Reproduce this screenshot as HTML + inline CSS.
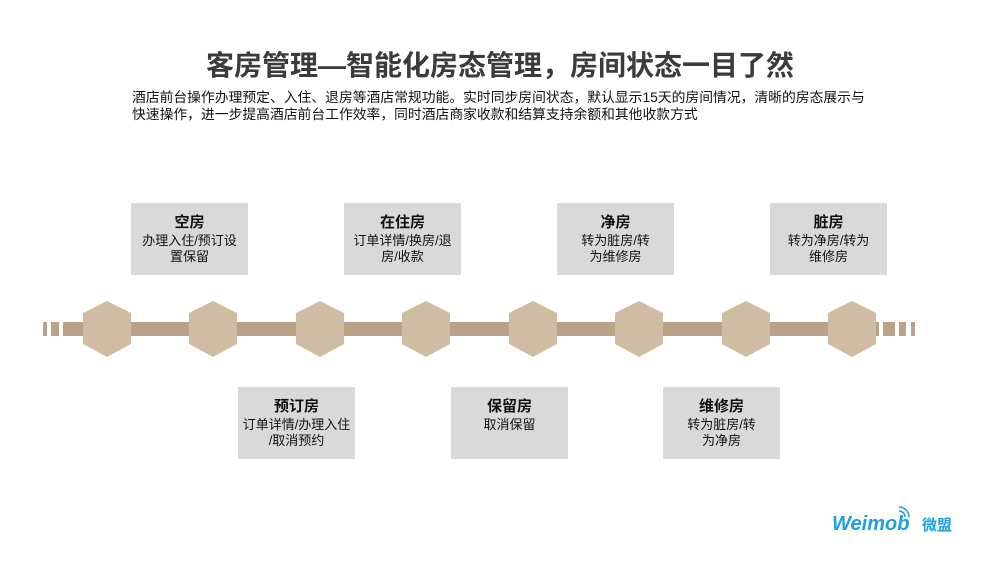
<!DOCTYPE html>
<html><head><meta charset="utf-8"><style>
body{margin:0;width:1000px;height:563px;background:#fff;position:relative;overflow:hidden;font-family:"Liberation Sans","Noto Sans CJK SC",sans-serif;}
.t{position:absolute;left:0;width:1000px;top:44px;text-align:center;font-size:28px;font-weight:bold;color:#3b3b3b;}
.s{position:absolute;left:132px;top:89px;width:800px;font-size:13.8px;line-height:17px;color:#111;white-space:nowrap;}
.b{position:absolute;width:117px;height:72px;background:#d9d9d9;text-align:center;font-size:13px;line-height:16px;color:#111;box-sizing:border-box;padding-top:10px;}
.b b{font-size:15px;display:block;line-height:20px;}
.bar{position:absolute;background:#b9a287;top:322px;height:14px;}
</style></head><body>
<div class="t">客房管理—智能化房态管理，房间状态一目了然</div>
<div class="s">酒店前台操作办理预定、入住、退房等酒店常规功能。实时同步房间状态，默认显示15天的房间情况，清晰的房态展示与<br>快速操作，进一步提高酒店前台工作效率，同时酒店商家收款和结算支持余额和其他收款方式</div>
<div class="b" style="left:131px;top:203px"><b>空房</b>办理入住/预订设<br>置保留</div>
<div class="b" style="left:344px;top:203px"><b>在住房</b>订单详情/换房/退<br>房/收款</div>
<div class="b" style="left:557px;top:203px"><b>净房</b>转为脏房/转<br>为维修房</div>
<div class="b" style="left:770px;top:203px"><b>脏房</b>转为净房/转为<br>维修房</div>
<div class="b" style="left:238px;top:387px"><b>预订房</b>订单详情/办理入住<br>/取消预约</div>
<div class="b" style="left:451px;top:387px"><b>保留房</b>取消保留</div>
<div class="b" style="left:663px;top:387px"><b>维修房</b>转为脏房/转<br>为净房</div>
<div class="bar" style="left:43px;width:4px"></div>
<div class="bar" style="left:51px;width:8px"></div>
<div class="bar" style="left:63px;width:816px"></div>
<div class="bar" style="left:883px;width:12px"></div>
<div class="bar" style="left:899px;width:7px"></div>
<div class="bar" style="left:911px;width:4px"></div>
<svg style="position:absolute;left:0;top:0" width="1000" height="563">
<g fill="#cfbca3">
<polygon points="107,301 131,313 131,344 107,357 83,344 83,313"/>
<polygon points="213,301 237,313 237,344 213,357 189,344 189,313"/>
<polygon points="320,301 344,313 344,344 320,357 296,344 296,313"/>
<polygon points="426,301 450,313 450,344 426,357 402,344 402,313"/>
<polygon points="533,301 557,313 557,344 533,357 509,344 509,313"/>
<polygon points="639,301 663,313 663,344 639,357 615,344 615,313"/>
<polygon points="746,301 770,313 770,344 746,357 722,344 722,313"/>
<polygon points="852,301 876,313 876,344 852,357 828,344 828,313"/>
</g>
<g fill="none" stroke="#1aa0e0" stroke-width="1.5"><path d="M899,511 a6,6 0 0 1 6,6"/><path d="M899,507 a10,10 0 0 1 10,10"/></g>
<text x="832" y="530" font-family="Liberation Sans" font-size="20" font-weight="bold" font-style="italic" fill="#1aa0e0">Weimob</text>
<text x="922" y="530" font-family="Noto Sans CJK SC" font-size="15" font-weight="bold" fill="#1aa0e0">微盟</text>
</svg>
</body></html>
